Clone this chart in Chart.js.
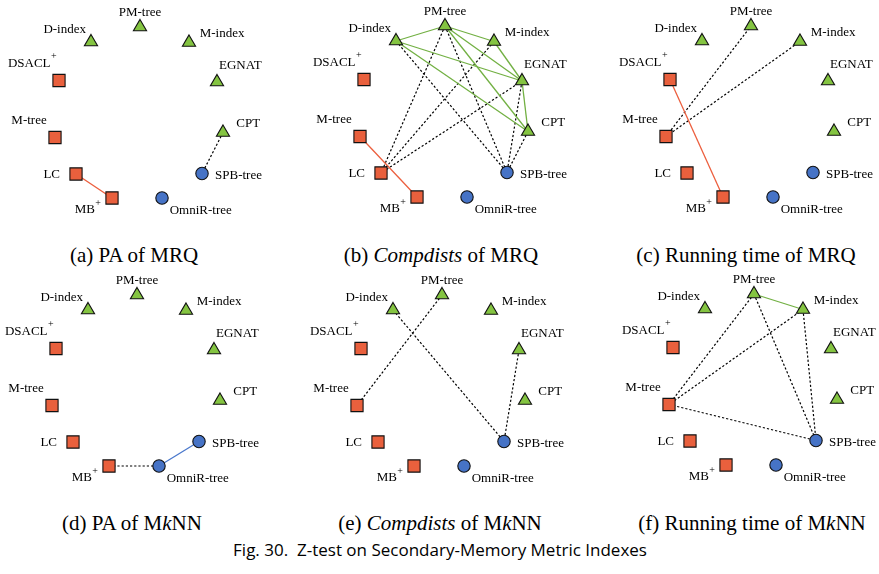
<!DOCTYPE html>
<html>
<head>
<meta charset="utf-8">
<script src="https://cdn.jsdelivr.net/npm/chart.js@4.4.1/dist/chart.umd.min.js"></script>
<style>
  html, body { margin: 0; padding: 0; background: #fff; }
  body { width: 879px; height: 574px; overflow: hidden; position: relative; }
  canvas { position: absolute; }
  .cap { position: absolute; font-family: "Liberation Serif", "Times New Roman", serif; font-size: 21px;
         line-height: 22px; color: #000; white-space: nowrap; transform: translateX(-50%); }
  .fig { position: absolute; font-family: "Open Sans", sans-serif; font-size: 17px;
         line-height: 20px; color: #000; white-space: nowrap; transform: translateX(-50%); }
</style>
</head>
<body>
<script>
// Metric indexes, their family, and their place on the circular layout (layout units, y downwards)
const indexNames = ['PM-tree', 'M-index', 'EGNAT', 'CPT', 'SPB-tree', 'OmniR-tree', 'MB+', 'LC', 'M-tree', 'DSACL+', 'D-index'];
const indexFamily = ['hybrid', 'hybrid', 'hybrid', 'hybrid', 'pivot', 'pivot', 'compact', 'compact', 'compact', 'compact', 'hybrid'];
const layoutX = [0, 49, 77, 83, 62, 22, -28, -64, -85, -81, -49];
const layoutY = [0, 15.5, 55, 105.5, 146.5, 171, 171, 147, 110.5, 53.5, 15];

// Sub-figure captions
const panelCaptions = [
  '(a) PA of MRQ',
  '(b) <i>Compdists</i> of MRQ',
  '(c) Running time of MRQ',
  '(d) PA of M<i>k</i>NN',
  '(e) <i>Compdists</i> of M<i>k</i>NN',
  '(f) Running time of M<i>k</i>NN'
];

// Pairs with no significant difference inside the same family (solid) and across families (dotted)
const sameFamilyPairs = [
  [['LC', 'MB+']],
  [['D-index', 'PM-tree'], ['D-index', 'EGNAT'], ['D-index', 'CPT'], ['PM-tree', 'M-index'], ['PM-tree', 'EGNAT'],
   ['PM-tree', 'CPT'], ['M-index', 'EGNAT'], ['EGNAT', 'CPT'], ['M-tree', 'MB+']],
  [['DSACL+', 'MB+']],
  [['OmniR-tree', 'SPB-tree']],
  [],
  [['PM-tree', 'M-index']]
];
const crossFamilyPairs = [
  [['CPT', 'SPB-tree']],
  [['D-index', 'SPB-tree'], ['PM-tree', 'LC'], ['PM-tree', 'SPB-tree'], ['M-index', 'LC'], ['EGNAT', 'LC'],
   ['EGNAT', 'SPB-tree'], ['CPT', 'SPB-tree']],
  [['M-tree', 'PM-tree'], ['M-tree', 'M-index']],
  [['MB+', 'OmniR-tree']],
  [['D-index', 'SPB-tree'], ['PM-tree', 'M-tree'], ['EGNAT', 'SPB-tree']],
  [['PM-tree', 'M-tree'], ['PM-tree', 'SPB-tree'], ['M-index', 'M-tree'], ['M-index', 'SPB-tree'], ['M-tree', 'SPB-tree']]
];

// ---- presentation ----
const familyStyle = {
  hybrid:  { shape: 'triangle', radius: 7.6, fill: '#84c441', edge: '#72b043' },
  compact: { shape: 'rect',     radius: 8.6, fill: '#e9603d', edge: '#ec5f3e' },
  pivot:   { shape: 'circle',   radius: 6.2, fill: '#4673c6', edge: '#4a78cc' }
};

// where each panel's PM-tree node sits on the page
const panelAnchor = [[140, 27], [445, 26], [751, 26], [137, 295], [442, 295], [754, 294]];
const captionPos = [[134, 244], [441, 244], [746, 244], [132, 512], [440, 512], [752, 512]];

const X_MIN = -135, X_MAX = 155, Y_MIN = -27, Y_MAX = 203;

const labelPlace = {
  'PM-tree':    { dx: 0,    dy: -14.7, align: 'center' },
  'M-index':    { dx: 10.7, dy: -8.7,  align: 'left' },
  'EGNAT':      { dx: 2,    dy: -16.4, align: 'left' },
  'CPT':        { dx: 13.3, dy: -9.3,  align: 'left' },
  'SPB-tree':   { dx: 13,   dy: 2,     align: 'left' },
  'OmniR-tree': { dx: 7.7,  dy: 12.7,  align: 'left' },
  'MB+':        { dx: -11,  dy: 11.5,  align: 'right' },
  'LC':         { dx: -16,  dy: 0.5,   align: 'right' },
  'M-tree':     { dx: -8.3, dy: -16.7, align: 'right' },
  'DSACL+':     { dx: -2.3, dy: -17.4, align: 'right' },
  'D-index':    { dx: -5,   dy: -12.7, align: 'right' }
};

const nodeLabels = {
  id: 'nodeLabels',
  afterDatasetsDraw(chart) {
    const meta = chart.getDatasetMeta(0);
    const ctx = chart.ctx;
    ctx.save();
    ctx.fillStyle = '#000';
    ctx.textBaseline = 'middle';
    meta.data.forEach((pt, i) => {
      const name = indexNames[i];
      const p = labelPlace[name];
      const x = pt.x + p.dx, y = pt.y + p.dy;
      if (name.endsWith('+')) {
        const base = name.slice(0, -1);
        ctx.font = '10px "Liberation Serif", serif';
        const supW = ctx.measureText('+').width;
        ctx.textAlign = 'left';
        ctx.fillText('+', x - supW, y - 6.5);
        ctx.font = '13px "Liberation Serif", serif';
        ctx.textAlign = 'right';
        ctx.fillText(base, x - supW - 0.5, y);
      } else {
        ctx.font = '13px "Liberation Serif", serif';
        ctx.textAlign = p.align;
        ctx.fillText(name, x, y);
      }
    });
    ctx.restore();
  }
};

function pos(name) {
  const i = indexNames.indexOf(name);
  return { x: layoutX[i], y: layoutY[i] };
}

function edgeDataset(pair, dotted) {
  const fam = indexFamily[indexNames.indexOf(pair[0])];
  return {
    data: [pos(pair[0]), pos(pair[1])],
    showLine: true,
    borderColor: dotted ? '#000' : familyStyle[fam].edge,
    borderWidth: dotted ? 1.2 : 1.3,
    borderDash: dotted ? [2.2, 2] : [],
    pointRadius: 0,
    fill: false,
    order: 1
  };
}

panelAnchor.forEach((anchor, k) => {
  const cv = document.createElement('canvas');
  cv.width = X_MAX - X_MIN;
  cv.height = Y_MAX - Y_MIN;
  cv.style.left = (anchor[0] + X_MIN) + 'px';
  cv.style.top = (anchor[1] + Y_MIN) + 'px';
  document.body.appendChild(cv);

  const nodes = {
    data: indexNames.map((n, i) => ({ x: layoutX[i], y: layoutY[i] })),
    pointStyle: indexFamily.map(f => familyStyle[f].shape),
    pointRadius: indexFamily.map(f => familyStyle[f].radius),
    backgroundColor: indexFamily.map(f => familyStyle[f].fill),
    borderColor: '#111',
    borderWidth: 1.1,
    showLine: false,
    order: 0
  };

  const datasets = [nodes]
    .concat(sameFamilyPairs[k].map(p => edgeDataset(p, false)))
    .concat(crossFamilyPairs[k].map(p => edgeDataset(p, true)));

  new Chart(cv, {
    type: 'scatter',
    data: { datasets },
    options: {
      responsive: false,
      animation: false,
      events: [],
      layout: { padding: 0, autoPadding: false },
      clip: false,
      scales: {
        x: { type: 'linear', min: X_MIN, max: X_MAX, display: false },
        y: { type: 'linear', min: Y_MIN, max: Y_MAX, reverse: true, display: false }
      },
      plugins: { legend: { display: false }, tooltip: { enabled: false } }
    },
    plugins: [nodeLabels]
  });

  const cap = document.createElement('div');
  cap.className = 'cap';
  cap.innerHTML = panelCaptions[k];
  cap.style.left = captionPos[k][0] + 'px';
  cap.style.top = captionPos[k][1] + 'px';
  document.body.appendChild(cap);
});

const fig = document.createElement('div');
fig.className = 'fig';
fig.innerHTML = 'Fig. 30.&nbsp; Z-test on Secondary-Memory Metric Indexes';
fig.style.left = '440px';
fig.style.top = '540px';
document.body.appendChild(fig);
</script>
</body>
</html>
